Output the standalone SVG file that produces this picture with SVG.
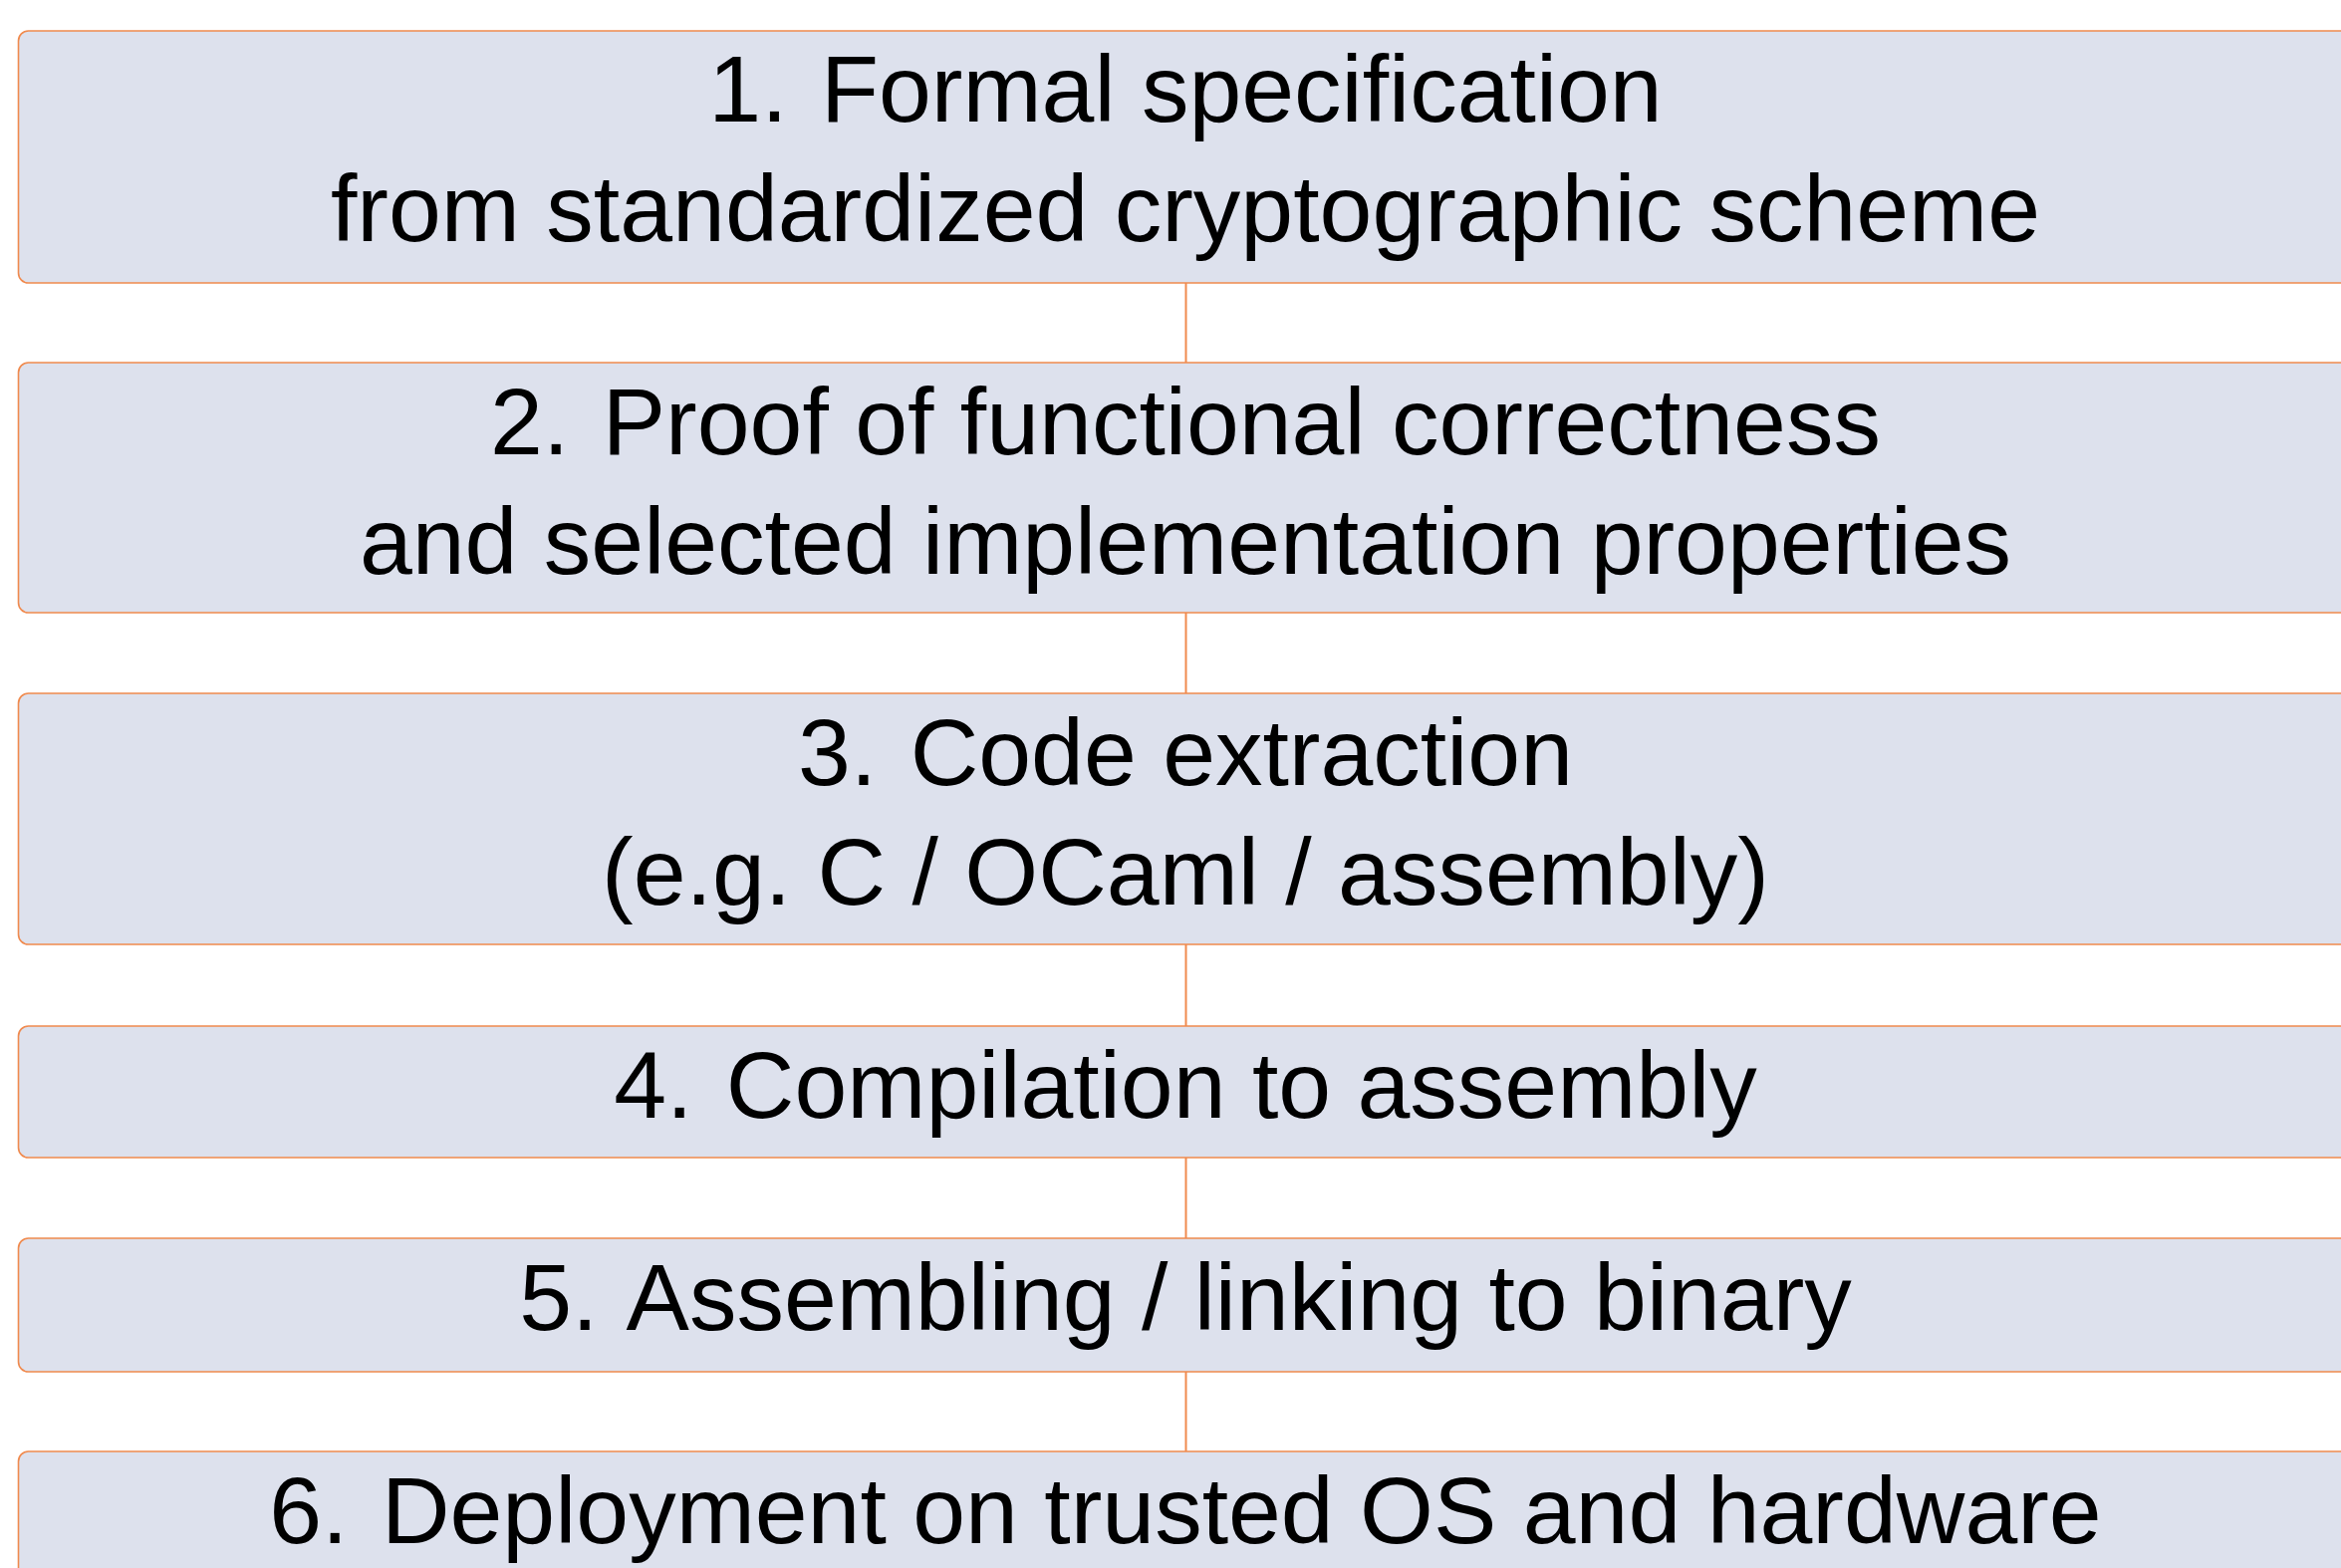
<svg xmlns="http://www.w3.org/2000/svg" width="2350" height="1574" viewBox="0 0 2350 1574">
  <style>
    .box { fill: #DDE1ED; stroke: #F08A4E; stroke-width: 1.6; }
    .lbl { font-family: "Liberation Sans", Arial, Helvetica, sans-serif; font-size: 95px; fill: #000; text-anchor: middle; }
    .link { stroke: #F08A4E; stroke-width: 2; fill: none; }
  </style>
  <rect width="2350" height="1574" fill="#FFFFFF"/>

  <!-- vertical links between consecutive steps -->
  <g id="connectors">
    <line class="link" x1="1190.5" y1="284" x2="1190.5" y2="364"/>
    <line class="link" x1="1190.5" y1="615" x2="1190.5" y2="696"/>
    <line class="link" x1="1190.5" y1="948" x2="1190.5" y2="1030"/>
    <line class="link" x1="1190.5" y1="1162" x2="1190.5" y2="1243"/>
    <line class="link" x1="1190.5" y1="1377" x2="1190.5" y2="1457"/>
  </g>

  <!-- step numbers get a slightly wider gap, as in an enumerated list -->
  <g id="step1">
    <rect class="box" x="18.5" y="31" width="2344" height="253" rx="10" ry="10"/>
    <text class="lbl" x="1190" y="122">1.<tspan dx="7"> Formal specification</tspan></text>
    <text class="lbl" x="1190" y="242">from standardized cryptographic scheme</text>
  </g>

  <g id="step2">
    <rect class="box" x="18.5" y="364" width="2344" height="251" rx="10" ry="10"/>
    <text class="lbl" x="1190" y="456">2.<tspan dx="7"> Proof of functional correctness</tspan></text>
    <text class="lbl" x="1190" y="576">and selected implementation properties</text>
  </g>

  <g id="step3">
    <rect class="box" x="18.5" y="696" width="2344" height="252" rx="10" ry="10"/>
    <text class="lbl" x="1190" y="788">3.<tspan dx="7"> Code extraction</tspan></text>
    <text class="lbl" x="1190" y="908">(e.g. C / OCaml / assembly)</text>
  </g>

  <g id="step4">
    <rect class="box" x="18.5" y="1030" width="2344" height="132" rx="10" ry="10"/>
    <text class="lbl" x="1190" y="1122">4.<tspan dx="7"> Compilation to assembly</tspan></text>
  </g>

  <g id="step5">
    <rect class="box" x="18.5" y="1243" width="2344" height="134" rx="10" ry="10"/>
    <text class="lbl" x="1190" y="1335">5.<tspan dx="7"> Assembling / linking to binary</tspan></text>
  </g>

  <g id="step6">
    <rect class="box" x="18.5" y="1457" width="2344" height="133" rx="10" ry="10"/>
    <text class="lbl" x="1190" y="1549">6.<tspan dx="7"> Deployment on trusted OS and hardware</tspan></text>
  </g>
</svg>
